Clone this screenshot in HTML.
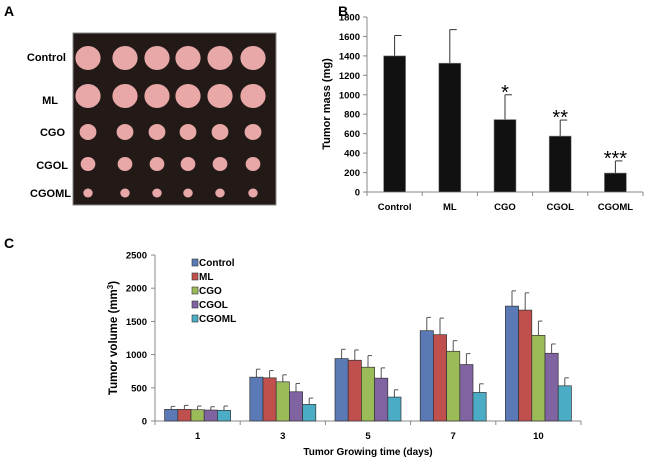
<!DOCTYPE html>
<html><head><meta charset="utf-8"><style>
body{margin:0;background:#fff;}
svg{display:block;font-family:"Liberation Sans",Arial,sans-serif;font-weight:bold;}
</style></head><body>
<svg id="fig" width="650" height="464" viewBox="0 0 650 464">
<text x="4" y="16" font-size="14">A</text>
<text x="338" y="16" font-size="14">B</text>
<text x="4" y="248" font-size="14">C</text>
<rect x="73" y="33" width="203" height="172" fill="#231a18" stroke="#888" stroke-width="1"/>
<g id="tumors"></g>
<g font-size="11" text-anchor="end">
<text x="66" y="61">Control</text><text x="58" y="104">ML</text><text x="65" y="136">CGO</text><text x="68" y="169">CGOL</text><text x="71" y="197">CGOML</text>
</g>
<g id="chartB"></g>
<g id="chartC"></g>
</svg>
<script>
const NS="http://www.w3.org/2000/svg";
function mk(p,t,a,txt){const e=document.createElementNS(NS,t);for(const k in a)e.setAttribute(k,a[k]);if(txt!==undefined)e.textContent=txt;p.appendChild(e);return e;}
// photo
const tumorCols=[88,125,157,188,220,253];
const tumorRows=[58,96,132,164,193];
const tumorSizes=[12,12,8,7,4.5];
const tg=document.getElementById('tumors');
tumorRows.forEach((y,r)=>tumorCols.forEach(x=>{const e=mk(tg,'ellipse',{cx:x,cy:y,rx:tumorSizes[r]*1.05,ry:tumorSizes[r],fill:'#e8a8a8'});

}));

// Chart B
const bCats=["Control","ML","CGO","CGOL","CGOML"];
const bVals=[1400,1325,745,575,195];
const bErr=[1610,1670,1000,740,320];
const bStars=["","","*","**","***"];
const bTicks=[0,200,400,600,800,1000,1200,1400,1600,1800];
(function(){
const g=document.getElementById('chartB');
const x0=367,x1=643,y0=192,yTop=17,max=1800;
const Y=v=>y0-(v/max)*(y0-yTop);
const bw=(x1-x0)/bCats.length;
const X=i=>x0+bw*(i+0.5);
mk(g,'line',{x1:x0,y1:yTop,x2:x0,y2:y0,stroke:'#888'});
mk(g,'line',{x1:x0,y1:y0,x2:x1,y2:y0,stroke:'#888'});
bTicks.forEach(t=>{mk(g,'line',{x1:x0-4,x2:x0,y1:Y(t),y2:Y(t),stroke:'#888'});
const l=mk(g,'text',{x:x0-7,y:Y(t)+3.5,'font-size':9.5,'text-anchor':'end'},t);

});
for(let i=0;i<=bCats.length;i++)mk(g,'line',{x1:x0+bw*i,x2:x0+bw*i,y1:y0,y2:y0+4,stroke:'#888'});
bCats.forEach((c,i)=>{
mk(g,'line',{x1:X(i),x2:X(i),y1:Y(bErr[i]),y2:Y(bVals[i]),stroke:'#333'});
mk(g,'line',{x1:X(i),x2:X(i)+7,y1:Y(bErr[i]),y2:Y(bErr[i]),stroke:'#333'});
const r=mk(g,'rect',{x:X(i)-11,y:Y(bVals[i]),width:22,height:y0-Y(bVals[i]),fill:'#111',stroke:'#888','stroke-width':0.6});


const l=mk(g,'text',{x:X(i),y:y0+18,'font-size':9.5,'text-anchor':'middle'},c);


if(bStars[i]){const s=mk(g,'text',{x:X(i),y:Y(bErr[i])+4,'font-size':20,'font-weight':'normal','text-anchor':'middle'},bStars[i]);

}
});
const t=mk(g,'text',{transform:'translate(330,104) rotate(-90)','font-size':11,'text-anchor':'middle'},'Tumor mass (mg)');


})();

// Chart C
const cDays=["1","3","5","7","10"];
const cSeries=["Control","ML","CGO","CGOL","CGOML"];
const cColors=["#5b7ab5","#c0504d","#9bbb59","#8064a2","#4bacc6"];
const cControl=[175,660,940,1360,1730];
const cML=[175,650,915,1300,1670];
const cCGO=[170,590,810,1050,1290];
const cCGOL=[165,440,645,850,1020];
const cCGOML=[160,250,360,430,530];
const eControl=[220,780,1080,1560,1960];
const eML=[235,760,1070,1550,1930];
const eCGO=[225,695,985,1210,1505];
const eCGOL=[215,565,800,1015,1160];
const eCGOML=[225,345,470,560,650];
const cTicks=[0,500,1000,1500,2000,2500];
(function(){
const vals=[cControl,cML,cCGO,cCGOL,cCGOML],errs=[eControl,eML,eCGO,eCGOL,eCGOML];
const g=document.getElementById('chartC');
const x0=155,x1=581,y0=421,yTop=255,max=2500;
const Y=v=>y0-(v/max)*(y0-yTop);
const gw=(x1-x0)/cDays.length,bw=13.2;
const X=(d,s)=>x0+gw*(d+0.5)+(s-2.5)*bw;
mk(g,'line',{x1:x0,y1:yTop,x2:x0,y2:y0,stroke:'#888'});
mk(g,'line',{x1:x0,y1:y0,x2:x1,y2:y0,stroke:'#888'});
cTicks.forEach(t=>{mk(g,'line',{x1:x0-4,x2:x0,y1:Y(t),y2:Y(t),stroke:'#888'});
const l=mk(g,'text',{x:x0-8,y:Y(t)+3.5,'font-size':9.5,'text-anchor':'end'},t);

});
for(let i=0;i<=cDays.length;i++)mk(g,'line',{x1:x0+gw*i,x2:x0+gw*i,y1:y0,y2:y0+4,stroke:'#888'});
cDays.forEach((d,di)=>{
cSeries.forEach((s,si)=>{
const cx=X(di,si)+bw/2;
mk(g,'line',{x1:cx,x2:cx,y1:Y(errs[si][di]),y2:Y(vals[si][di]),stroke:'#555'});
mk(g,'line',{x1:cx,x2:cx+4,y1:Y(errs[si][di]),y2:Y(errs[si][di]),stroke:'#555'});
const r=mk(g,'rect',{x:X(di,si),y:Y(vals[si][di]),width:bw,height:y0-Y(vals[si][di]),fill:cColors[si],stroke:'#333','stroke-width':0.7});


});
const l=mk(g,'text',{x:x0+gw*(di+0.5),y:y0+18,'font-size':9.5,'text-anchor':'middle'},d);


});
cSeries.forEach((s,si)=>{
const ly=262+si*14;
const sw=mk(g,'rect',{x:192,y:ly-3,width:6,height:7,fill:cColors[si],stroke:'#333','stroke-width':0.6});


const t=mk(g,'text',{x:199,y:ly+4,'font-size':10},s);


});
const xt=mk(g,'text',{x:368,y:455,'font-size':10,'text-anchor':'middle'},'Tumor Growing time (days)');


const yt=mk(g,'text',{transform:'translate(117,338) rotate(-90)','font-size':11.5,'text-anchor':'middle'});


yt.textContent='Tumor volume (mm';
mk(yt,'tspan',{dy:-4,'font-size':8},'3');
mk(yt,'tspan',{dy:4},')');
})();
</script>
</body></html>
